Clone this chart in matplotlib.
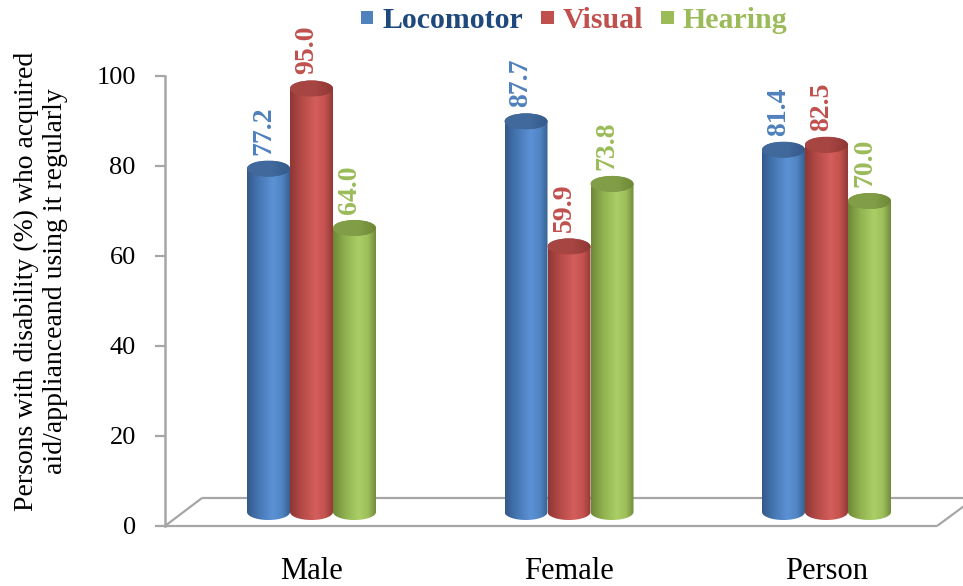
import matplotlib
matplotlib.use('Agg')
import matplotlib.pyplot as plt
import numpy as np
from matplotlib.patches import Ellipse, PathPatch, Patch
from matplotlib.path import Path
from matplotlib.colors import LinearSegmentedColormap

categories = ['Male', 'Female', 'Person']
series = ['Locomotor', 'Visual', 'Hearing']
locomotor = [77.2, 87.7, 81.4]
visual = [95.0, 59.9, 82.5]
hearing = [64.0, 73.8, 70.0]
yticks = [0, 20, 40, 60, 80, 100]

plt.rcParams['font.family'] = ['Liberation Serif', 'DejaVu Serif']

W, H = 963, 586
fig = plt.figure(figsize=(W / 100, H / 100), dpi=100)
ax = fig.add_axes([165 / W, (H - 526) / H, (960 - 165) / W, 450 / H])

PXX = 257.5   # pixels per category
PXY = 4.5     # pixels per y unit
X0 = 311.5    # pixel of category 0
Y0 = 526      # pixel of y=0

def dx(p):
    return p / PXX

def dy(p):
    return p / PXY

def X(p):
    return (p - X0) / PXX

def Y(p):
    return (Y0 - p) / PXY

# floor
floor_c = '#A6A6A6'
kw = dict(color=floor_c, lw=1.6, clip_on=False, zorder=1, solid_capstyle='butt')
ax.plot([X(165), X(937)], [Y(526), Y(526)], **kw)
ax.plot([X(202), X(975)], [Y(498), Y(498)], **kw)
ax.plot([X(165), X(202)], [Y(526), Y(498)], **kw)
ax.plot([X(937), X(975)], [Y(526), Y(498)], **kw)

styles = [
    dict(cols=['#34598A', '#4677B4', '#5C92D5', '#5084C3', '#36608F'], top='#41699C', lab='#4F81BD'),
    dict(cols=['#8E3735', '#B54A47', '#D45E5B', '#C4524F', '#913A37'], top='#A64542', lab='#C0504D'),
    dict(cols=['#6E8737', '#90B14F', '#ABCF66', '#9DBE5B', '#718B3A'], top='#819E47', lab='#9BBB59'),
]
pos = [0, 0.28, 0.6, 0.82, 1.0]

bw = dx(43)
eh = dy(8)        # ellipse half height
base = dy(14)     # bottom offset (depth)
lift = dy(10)     # top offset (depth)

grad = np.linspace(0, 1, 256).reshape(1, -1)

for k, vals in enumerate([locomotor, visual, hearing]):
    st = styles[k]
    cmap = LinearSegmentedColormap.from_list('c%d' % k, list(zip(pos, st['cols'])))
    tcmap = LinearSegmentedColormap.from_list('t%d' % k, [(0, st['top']), (0.6, st['top']), (1, st['cols'][0])])
    for i, v in enumerate(vals):
        xc = i + (k - 1) * bw
        x0, x1 = xc - bw / 2, xc + bw / 2
        yb = base
        yt = v + lift
        t = np.linspace(np.pi, 2 * np.pi, 40)
        arc = np.column_stack([xc + bw / 2 * np.cos(t), yb + eh * np.sin(t)])
        verts = [(x0, yt)] + [tuple(p) for p in arc] + [(x1, yt), (x0, yt)]
        codes = [Path.MOVETO] + [Path.LINETO] * (len(verts) - 2) + [Path.CLOSEPOLY]
        body = PathPatch(Path(verts, codes), facecolor='none', edgecolor='none', zorder=3 + k)
        ax.add_patch(body)
        im = ax.imshow(grad, cmap=cmap, extent=[x0, x1, yb - eh, yt], aspect='auto',
                       interpolation='bilinear', zorder=3 + k)
        im.set_clip_path(body)
        topell = Ellipse((xc, yt), bw, 2 * eh, facecolor=st['top'], edgecolor='none', zorder=3.5 + k)
        ax.add_patch(topell)
        im2 = ax.imshow(grad, cmap=tcmap, extent=[x0, x1, yt - eh, yt + eh], aspect='auto',
                        interpolation='bilinear', zorder=3.5 + k)
        im2.set_clip_path(topell)
        ax.text(xc - dx(5), yt + eh + dy(6), f'{v:.1f}', rotation=90, ha='center', va='bottom',
                fontsize=20, fontweight='bold', color=st['lab'], zorder=10)

ax.set_xlim((165 - X0) / PXX, (960 - X0) / PXX)
ax.set_ylim(0, 100)

for s in ['top', 'right', 'bottom']:
    ax.spines[s].set_visible(False)
ax.spines['left'].set_color(floor_c)
ax.spines['left'].set_linewidth(1.8)
ax.set_yticks(yticks)
ax.tick_params(axis='y', direction='out', length=7, width=1.6, color=floor_c, pad=14, labelsize=19)
ax.set_xticks(range(len(categories)))
ax.set_xticklabels(categories)
ax.tick_params(axis='x', length=0, pad=22, labelsize=22)

fig.text(41 / W, 1 - 281 / H,
         'Persons with disability (%) who acquired\naid/applianceand using it regularly',
         rotation=90, ha='center', va='center', multialignment='center', fontsize=20, linespacing=1.25)

handles = [Patch(facecolor=styles[k]['lab'], edgecolor='none') for k in range(3)]
fig.legend(handles=handles, labels=series, loc='center', bbox_to_anchor=(574 / W, 1 - 21 / H),
           ncol=3, frameon=False, prop={'weight': 'bold', 'size': 21.5},
           labelcolor=['#1F497D', '#C0504D', '#9BBB59'], handlelength=0.42, handleheight=0.27,
           handletextpad=0.3, columnspacing=0.6, borderpad=0, borderaxespad=0)

fig.savefig('out.png', dpi=100)
